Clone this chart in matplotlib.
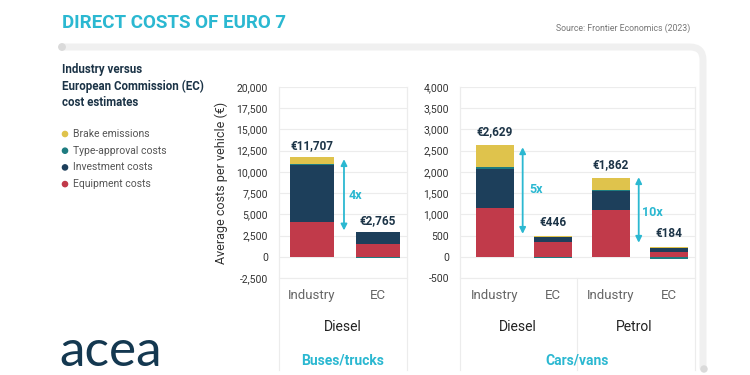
import matplotlib
matplotlib.use("Agg")
import matplotlib.pyplot as plt
from matplotlib import font_manager
from matplotlib.patches import Circle
from matplotlib.path import Path
from matplotlib.patches import PathPatch


def pick_font(names):
    for n in names:
        try:
            font_manager.findfont(font_manager.FontProperties(family=n), fallback_to_default=False)
            return n
        except ValueError:
            pass
    return "DejaVu Sans"


NARROW = pick_font(["Liberation Sans Narrow", "Roboto", "DejaVu Sans"])
BASE = pick_font(["Roboto", "DejaVu Sans"])
plt.rcParams["font.family"] = [BASE, "DejaVu Sans"]

# ---- data (EUR per vehicle) ----
components = ["Brake emissions", "Type-approval costs", "Investment costs", "Equipment costs"]
colors = {"Brake emissions": "#DFC34C", "Type-approval costs": "#1E7C80",
          "Investment costs": "#1D3F5B", "Equipment costs": "#C13A4A"}

bus_labels = ["Industry", "EC"]
bus_equipment = [4100, 1500]
bus_investment = [6700, 1365]
bus_type_approval = [150, -100]
bus_brake = [757, 0]
bus_totals = ["€11,707", "€2,765"]

car_labels = ["Industry", "EC", "Industry", "EC"]
car_equipment = [1150, 350, 1100, 120]
car_investment = [910, 105, 450, 80]
car_type_approval = [50, -34, 30, -46]
car_brake = [519, 25, 282, 30]
car_totals = ["€2,629", "€446", "€1,862", "€184"]

bus_ticks = [-2500, 0, 2500, 5000, 7500, 10000, 12500, 15000, 17500, 20000]
car_ticks = [-500, 0, 500, 1000, 1500, 2000, 2500, 3000, 3500, 4000]

CYAN = "#2BB8D1"
DARK = "#1C3447"
GRID = "#ECECEC"

fig = plt.figure(figsize=(7.5, 3.75), dpi=100)

# background frame in pixel coords
bg = fig.add_axes([0, 0, 1, 1])
bg.set_xlim(0, 750)
bg.set_ylim(375, 0)
bg.axis("off")
verts = [(62, 47), (690, 47), (703, 47), (703, 60), (703, 368)]
codes = [Path.MOVETO, Path.LINETO, Path.CURVE3, Path.CURVE3, Path.LINETO]
bg.add_patch(PathPatch(Path(verts, codes), fill=False, edgecolor="#F0F0F0", lw=5, capstyle="round"))
bg.add_patch(Circle((62, 47), 3.2, color="#DADADA"))
bg.add_patch(Circle((704, 369), 3.0, color="#DADADA"))

fig.text(62 / 750, 1 - 23 / 375, "DIRECT COSTS OF EURO 7", family=[NARROW, "DejaVu Sans"],
         fontsize=13.5, color=CYAN, fontweight="bold", va="center", ha="left")
fig.text(690 / 750, 1 - 28 / 375, "Source: Frontier Economics (2023)", fontsize=6.3, color="#777777",
         ha="right", va="center", family=[NARROW, "DejaVu Sans"])
fig.text(62 / 750, 1 - 63 / 375, "Industry versus\nEuropean Commission (EC)\ncost estimates",
         fontsize=8.3, fontweight="bold", color=DARK, va="top", ha="left", linespacing=1.35,
         family=[NARROW, "DejaVu Sans"])

for i, name in enumerate(components):
    y = 134 + i * 16.7
    bg.add_patch(Circle((65, y), 2.6, color=colors[name]))
    bg.text(73, y, name, fontsize=7.5, color="#555555", va="center", ha="left")

bg.text(59, 352, "acea", fontsize=37, color="#143850", va="center", ha="left",
        family=["Lato", "DejaVu Sans"])


def stacked(ax, equipment, investment, type_approval, brake, width):
    x = list(range(len(equipment)))
    for xi, e, inv, ta, br in zip(x, equipment, investment, type_approval, brake):
        pos = 0.0
        for name, v in [("Equipment costs", e), ("Investment costs", inv),
                        ("Type-approval costs", ta), ("Brake emissions", br)]:
            if v >= 0:
                ax.bar(xi, v, width, bottom=pos, color=colors[name], zorder=3)
                pos += v
            else:
                ax.bar(xi, v, width, bottom=0, color=colors[name], zorder=3)
    return x


def style(ax, ticks, labels, xlim):
    ax.set_xlim(*xlim)
    ax.set_ylim(ticks[0], ticks[-1])
    ax.set_yticks(ticks)
    ax.set_yticklabels([f"{t:,}" for t in ticks], fontsize=7.5, color="#333333")
    ax.set_xticks([])
    ax.grid(axis="y", color=GRID, lw=0.8, zorder=0)
    ax.tick_params(axis="y", length=0, pad=8)
    for s in ["top", "bottom"]:
        ax.spines[s].set_visible(False)
    for s in ["left", "right"]:
        ax.spines[s].set_color(GRID)
        ax.spines[s].set_bounds(ticks[0], ticks[-1])
    tr = ax.get_xaxis_transform()
    # extended frame into the label area
    for xv in xlim:
        ax.plot([xv, xv], [1, -0.48], transform=tr, color=GRID, lw=0.8, clip_on=False)
    ax.plot(xlim, [0, 0], transform=tr, color=GRID, lw=0.8, clip_on=False)
    for i, lab in enumerate(labels):
        ax.text(i, -0.09, lab, transform=tr, ha="center", va="center", fontsize=9.5, color="#666666")


def totals(ax, tops, texts, yoff):
    for i, (t, s) in enumerate(zip(tops, texts)):
        ax.annotate(s, (i, t), xytext=(0, yoff), textcoords="offset points", ha="center", va="bottom",
                    fontsize=8.5, color=DARK, fontweight="bold", family=[NARROW, "DejaVu Sans"])


def multiple(ax, x, y0, y1, tx, ty, label):
    ax.annotate("", xy=(x, y0), xytext=(x, y1),
                arrowprops=dict(arrowstyle="<|-|>", color=CYAN, lw=1.3, mutation_scale=9,
                                shrinkA=0, shrinkB=0), zorder=4)
    ax.text(tx, ty, label, color=CYAN, fontsize=9, fontweight="bold", ha="center", va="center")


# ---- left: buses/trucks ----
ax1 = fig.add_axes([279 / 750, 1 - 278 / 375, 128 / 750, 191 / 375])
stacked(ax1, bus_equipment, bus_investment, bus_type_approval, bus_brake, 0.67)
style(ax1, bus_ticks, bus_labels, (-0.5, 1.44))
bus_tops = [e + i + max(t, 0) + b for e, i, t, b in zip(bus_equipment, bus_investment, bus_type_approval, bus_brake)]
totals(ax1, bus_tops, bus_totals, 4)
multiple(ax1, 0.485, 11500, 3100, 0.66, 7200, "4x")
ax1.set_ylabel("Average costs per vehicle (€)", fontsize=9, color="#333333", labelpad=6)
tr1 = ax1.get_xaxis_transform()
ax1.text(0.47, -0.255, "Diesel", transform=tr1, ha="center", va="center", fontsize=10, color="#222222")
ax1.text(0.47, -0.43, "Buses/trucks", transform=tr1, ha="center", va="center", fontsize=10,
         color=CYAN, fontweight="bold", family=[NARROW, "DejaVu Sans"])

# ---- right: cars/vans ----
ax2 = fig.add_axes([460 / 750, 1 - 278 / 375, 235 / 750, 191 / 375])
stacked(ax2, car_equipment, car_investment, car_type_approval, car_brake, 0.655)
style(ax2, car_ticks, car_labels, (-0.6, 3.45))
car_tops = [e + i + max(t, 0) + b for e, i, t, b in zip(car_equipment, car_investment, car_type_approval, car_brake)]
totals(ax2, car_tops, car_totals, 5)
multiple(ax2, 0.48, 2580, 540, 0.71, 1590, "5x")
multiple(ax2, 2.48, 1875, 330, 2.72, 1035, "10x")
tr2 = ax2.get_xaxis_transform()
ax2.plot([1.42, 1.42], [0, -0.48], transform=tr2, color=GRID, lw=0.8, clip_on=False)
ax2.text(0.4, -0.255, "Diesel", transform=tr2, ha="center", va="center", fontsize=10, color="#222222")
ax2.text(2.4, -0.255, "Petrol", transform=tr2, ha="center", va="center", fontsize=10, color="#222222")
ax2.text(1.42, -0.43, "Cars/vans", transform=tr2, ha="center", va="center", fontsize=10,
         color=CYAN, fontweight="bold", family=[NARROW, "DejaVu Sans"])

fig.savefig("out.png", dpi=100, facecolor="white")
